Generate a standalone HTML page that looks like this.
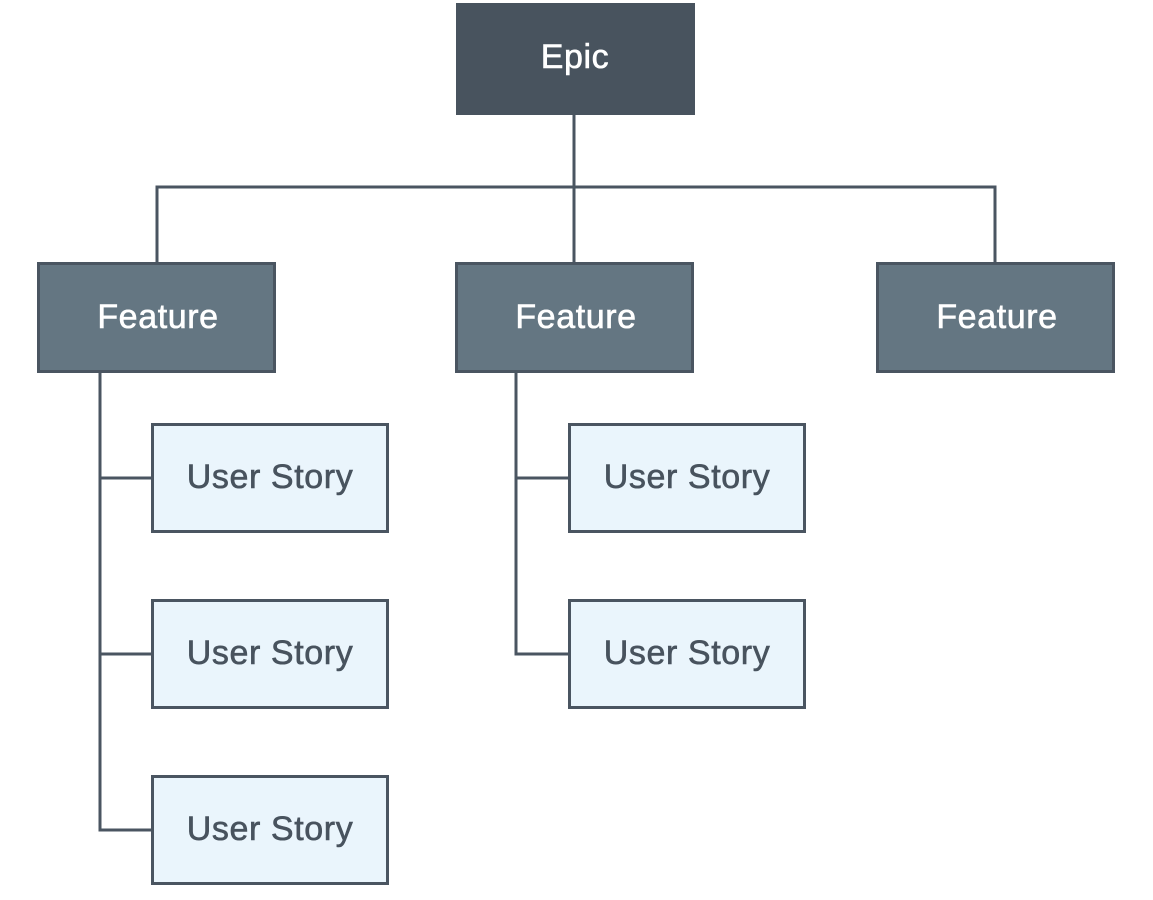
<!DOCTYPE html>
<html><head><style>
body{margin:0;width:1153px;height:895px;background:#fff;overflow:hidden}
svg text{font-family:"Liberation Sans",sans-serif;font-size:34px;letter-spacing:0.6px;text-anchor:middle;dominant-baseline:central}
</style></head><body>
<svg width="1153" height="895" xmlns="http://www.w3.org/2000/svg">
<g stroke="#4a5561" stroke-width="3" fill="none">
<path d="M574 115V262M157 262V187H995V262"/>
<path d="M100 373V830H151M100 478H151M100 654H151"/>
<path d="M516 373V654H568M516 478H568"/>
</g>
<rect x="456" y="3" width="239" height="112" fill="#48535e"/>
<text x="575" y="57" fill="#fff" stroke="#fff" stroke-width="0.6">Epic</text>
<g fill="#647682" stroke="#4a5561" stroke-width="3">
<rect x="38.5" y="263.5" width="236" height="108"/>
<rect x="456.5" y="263.5" width="236" height="108"/>
<rect x="877.5" y="263.5" width="236" height="108"/>
</g>
<g fill="#fff" stroke="#fff" stroke-width="0.6"><text x="158" y="317">Feature</text><text x="576" y="317">Feature</text><text x="997" y="317">Feature</text></g>
<g fill="#eaf5fc" stroke="#4a5561" stroke-width="3">
<rect x="152.5" y="424.5" width="235" height="107"/>
<rect x="152.5" y="600.5" width="235" height="107"/>
<rect x="152.5" y="776.5" width="235" height="107"/>
<rect x="569.5" y="424.5" width="235" height="107"/>
<rect x="569.5" y="600.5" width="235" height="107"/>
</g>
<g fill="#48535e" stroke="#48535e" stroke-width="0.6">
<text x="270" y="477">User Story</text><text x="270" y="653">User Story</text><text x="270" y="829">User Story</text>
<text x="687" y="477">User Story</text><text x="687" y="653">User Story</text>
</g>
</svg>
</body></html>
